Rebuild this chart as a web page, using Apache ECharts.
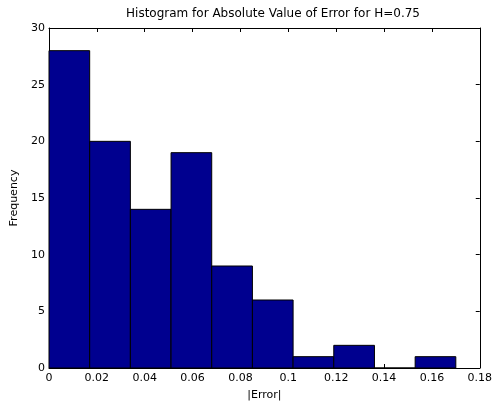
<!DOCTYPE html>
<html>
<head>
<meta charset="utf-8">
<script src="https://cdn.jsdelivr.net/npm/echarts@6/dist/echarts.min.js"></script>
<style>html,body{margin:0;padding:0;background:#fff;}#c{width:495px;height:406px;}</style>
</head>
<body>
<div id="c"></div>
<script>
var binStarts = [0.0, 0.017, 0.034, 0.051, 0.068, 0.085, 0.102, 0.119, 0.136, 0.153];
var binEnds   = [0.017, 0.034, 0.051, 0.068, 0.085, 0.102, 0.119, 0.136, 0.153, 0.170];
var counts    = [28, 20, 14, 19, 9, 6, 1, 2, 0, 1];
var xTicks = [0, 0.02, 0.04, 0.06, 0.08, 0.1, 0.12, 0.14, 0.16, 0.18];
var yTicks = [0, 5, 10, 15, 20, 25, 30];

var data = binStarts.map(function (s, i) { return [s, binEnds[i], counts[i]]; });
var font = '"DejaVu Sans", sans-serif';
var chart = echarts.init(document.getElementById('c'), null, {renderer: 'canvas'});
function axisCommon() {
  return {
    axisLine: {show: true, onZero: false, lineStyle: {color: '#000', width: 1}},
    axisTick: {show: true, inside: true, length: 4, lineStyle: {color: '#000'}},
    splitLine: {show: false}
  };
}
chart.setOption({
  animation: false,
  backgroundColor: '#fff',
  title: {
    text: 'Histogram for Absolute Value of Error for H=0.75',
    left: 268, top: 3, textAlign: 'center',
    textStyle: {fontFamily: font, fontSize: 12, fontWeight: 'normal', color: '#000'}
  },
  grid: {left: 49, right: 11, top: 28, bottom: 37},
  xAxis: [
    Object.assign({
      type: 'value', min: 0, max: 0.18, interval: 0.02, position: 'bottom',
      name: '|Error|', nameLocation: 'middle', nameGap: 22,
      nameTextStyle: {fontFamily: font, fontSize: 11, color: '#000'},
      axisLabel: {fontFamily: font, fontSize: 11, color: '#000', margin: 5,
        formatter: function (v) { var t = xTicks.find(function (x) { return Math.abs(x - v) < 1e-9; }); return t === undefined ? '' : String(t); }}
    }, axisCommon()),
    Object.assign({
      type: 'value', min: 0, max: 0.18, interval: 0.02, position: 'top',
      axisLabel: {show: false}
    }, axisCommon())
  ],
  yAxis: [
    Object.assign({
      type: 'value', min: 0, max: 30, interval: 5, position: 'left',
      name: 'Frequency', nameLocation: 'middle', nameGap: 21, nameRotate: 90,
      nameTextStyle: {fontFamily: font, fontSize: 11, color: '#000'},
      axisLabel: {fontFamily: font, fontSize: 11, color: '#000', margin: 4,
        formatter: function (v) { return yTicks.indexOf(v) >= 0 ? String(v) : ''; }}
    }, axisCommon()),
    Object.assign({
      type: 'value', min: 0, max: 30, interval: 5, position: 'right',
      axisLabel: {show: false}
    }, axisCommon())
  ],
  series: [{
    type: 'custom',
    xAxisIndex: 0, yAxisIndex: 0,
    data: data,
    encode: {x: [0, 1], y: 2},
    renderItem: function (params, api) {
      var p0 = api.coord([api.value(0), api.value(2)]);
      var p1 = api.coord([api.value(1), 0]);
      return {
        type: 'rect',
        shape: {x: p0[0], y: p0[1], width: p1[0] - p0[0], height: p1[1] - p0[1]},
        style: {fill: '#00008F', stroke: '#000', lineWidth: 1}
      };
    }
  }]
});
</script>
</body>
</html>
